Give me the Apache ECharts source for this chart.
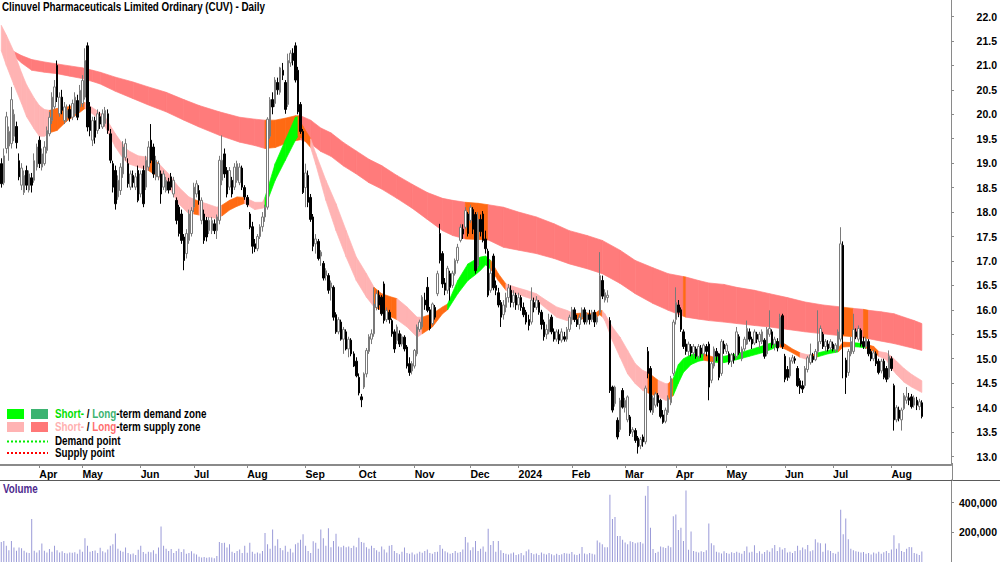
<!DOCTYPE html>
<html><head><meta charset="utf-8">
<script src="https://cdn.jsdelivr.net/npm/echarts@6/dist/echarts.min.js"></script>
<style>html,body{margin:0;padding:0;background:#fff}#c{width:1000px;height:562px}</style>
</head><body><div id="c"></div>
<script>
const FONT = "'Liberation Sans Narrow','Arial Narrow','Liberation Sans',Arial,sans-serif";
const NARROW = 0.82;
const titleText = 'Clinuvel Pharmaceuticals Limited Ordinary (CUV) - Daily';
const monthNames = ['Jan','Feb','Mar','Apr','May','Jun','Jul','Aug','Sep','Oct','Nov','Dec'];
const startDate = '2023-03-13';
const totalSlots = 375;
const holidays = ['2023-04-07','2023-04-10','2023-04-25','2023-06-12','2023-12-25','2023-12-26',
  '2024-01-01','2024-01-26','2024-03-29','2024-04-01','2024-04-25','2024-06-10'];
const priceTicks = [13,13.5,14,14.5,15,15.5,16,16.5,17,17.5,18,18.5,19,19.5,20,20.5,21,21.5,22];
const volumeTicks = [200000,400000];

// [open, close, low, high]
const candles = [
[18.99,18.58,18.50,19.10],[18.60,19.15,18.55,19.30],[19.30,19.95,19.20,20.05],[19.35,19.65,19.05,19.75],[19.40,20.30,19.30,20.56],
[19.55,20.00,19.45,20.10],[19.75,19.42,19.30,19.85],[19.05,18.72,18.65,19.20],[18.55,18.90,18.45,19.00],[18.40,18.75,18.35,18.85],
[18.85,18.55,18.45,18.95],[18.45,18.78,18.40,18.85],[18.70,18.55,18.40,18.80],[18.65,19.05,18.60,19.20],[18.92,19.33,18.85,19.40],
[19.47,18.99,18.90,19.55],[18.92,19.19,18.85,19.30],[18.99,19.33,18.95,19.45],[19.26,19.67,19.20,19.75],[19.60,19.94,19.55,20.05],
[19.87,20.35,19.80,20.45],[20.15,20.56,20.10,20.70],[21.00,20.35,20.25,21.10],[20.01,20.35,19.95,20.45],[20.35,20.08,20.00,20.50],
[19.87,20.15,19.80,20.25],[19.94,20.08,19.85,20.20],[20.10,19.92,19.85,20.20],[19.94,20.22,19.88,20.30],[20.01,20.35,19.95,20.45],
[20.28,19.94,19.88,20.40],[20.15,20.49,20.05,20.60],[20.22,20.69,20.15,20.80],[20.35,21.10,20.30,21.35],[21.40,19.74,19.65,21.47],
[20.15,19.67,19.55,20.25],[19.47,19.87,19.35,19.95],[19.87,19.53,19.40,19.95],[19.67,20.01,19.60,20.10],[19.95,19.80,19.70,20.05],
[19.74,20.01,19.70,20.10],[19.81,20.08,19.75,20.15],[20.01,19.67,19.60,20.10],[19.60,19.06,19.00,19.70],[18.99,18.51,18.40,19.05],
[18.85,18.17,18.05,18.95],[18.31,18.65,18.25,18.75],[18.44,18.92,18.35,19.00],[18.78,19.33,18.70,19.45],[19.12,19.40,19.05,19.50],
[18.99,18.58,18.50,19.10],[18.51,18.78,18.45,18.85],[18.75,18.60,18.50,18.85],[18.51,18.72,18.45,18.80],[18.85,18.24,18.20,18.95],
[18.37,18.78,18.30,18.85],[18.85,18.17,18.10,18.95],[18.51,19.06,18.45,19.15],[18.92,19.33,18.85,19.45],[19.47,19.06,19.00,19.80],
[19.33,18.78,18.70,19.40],[18.72,19.06,18.65,19.15],[18.72,18.99,18.65,19.05],[18.78,18.37,18.17,18.85],[18.51,18.78,18.45,18.85],
[18.44,18.65,18.40,18.72],[18.62,18.45,18.38,18.70],[18.72,18.51,18.45,18.80],[18.37,18.65,18.30,18.72],[18.24,17.83,17.75,18.30],
[18.10,17.56,17.50,18.15],[17.96,17.42,17.35,18.05],[17.49,17.01,16.81,17.55],[17.15,17.56,17.05,17.65],[17.42,17.96,17.35,18.05],
[17.56,18.03,17.50,18.10],[18.10,18.51,18.00,18.60],[18.37,18.58,18.30,18.65],[18.44,18.24,18.15,18.55],[17.83,18.24,17.75,18.30],
[17.96,17.42,17.35,18.05],[17.83,17.49,17.40,17.90],[17.62,17.83,17.55,17.90],[17.62,17.83,17.55,17.90],[17.76,17.62,17.55,17.85],
[17.62,17.90,17.45,17.95],[17.83,19.06,17.75,19.15],[18.65,19.06,18.55,19.57],[19.19,18.78,18.70,19.30],[18.85,18.37,18.30,18.92],
[18.51,18.85,18.45,18.92],[18.65,18.37,18.30,18.72],[18.51,18.92,18.45,19.00],[18.65,18.99,18.60,19.05],[18.60,18.92,18.55,19.00],
[18.90,18.51,18.45,18.95],[18.50,18.31,18.25,18.55],[18.30,18.15,18.10,18.35],[17.96,17.69,17.65,18.00],[17.70,17.30,17.15,17.80],
[17.35,17.25,17.18,17.45],[17.25,17.50,17.20,17.55],[17.50,17.70,17.45,17.75],[17.70,17.90,17.60,18.00],[17.90,18.10,17.80,18.15],
[18.10,19.90,18.05,19.94],[19.55,20.30,19.50,20.35],[20.30,20.15,20.00,20.45],[20.22,20.70,20.15,20.76],[20.65,20.50,20.40,20.75],
[20.45,20.95,20.40,20.97],[20.90,20.80,20.70,21.05],[20.65,20.10,20.01,20.70],[20.20,21.10,20.15,21.24],[21.05,21.25,20.97,21.31],
[21.25,21.10,21.00,21.35],[21.40,20.70,20.65,21.47],[20.90,20.05,20.00,20.97],[20.20,19.65,19.60,20.25],[19.65,18.40,18.37,19.70],
[18.50,18.80,18.10,18.99],[18.75,18.20,18.10,18.85],[18.30,17.85,17.80,18.37],[17.90,17.30,17.20,17.96],[17.35,17.45,17.15,17.55],
[17.40,17.05,17.01,17.45],[17.10,17.18,16.90,17.22],[16.95,16.65,16.60,17.00],[16.70,16.80,16.60,16.85],[16.70,16.40,16.33,16.75],
[16.45,16.55,16.19,16.60],[16.46,15.85,15.78,16.50],[15.90,15.55,15.51,15.95],[15.55,15.80,15.50,15.85],[15.75,15.40,15.37,15.80],
[15.40,15.60,15.10,15.65],[15.55,15.20,15.17,15.60],[15.20,15.40,15.03,15.45],[15.38,15.10,15.05,15.42],[15.10,14.85,14.83,15.15],
[14.95,14.65,14.62,15.03],[14.62,14.30,14.25,14.70],[14.22,14.16,14.01,14.28],[14.42,14.69,14.38,14.72],[14.69,15.17,14.62,15.22],
[15.15,15.45,15.10,15.50],[15.40,15.51,15.30,15.60],[15.51,16.12,15.45,16.46],[16.05,16.33,15.99,16.40],[16.30,16.10,16.00,16.40],
[16.26,15.92,15.88,16.30],[16.53,15.78,15.72,16.58],[15.80,15.99,15.75,16.05],[15.95,15.80,15.72,16.00],[15.78,15.51,15.45,15.82],
[15.55,15.20,15.12,15.60],[15.37,15.65,15.30,15.70],[15.51,15.30,15.24,15.58],[15.30,15.45,15.25,15.50],[15.44,15.20,15.15,15.48],
[15.24,14.85,14.80,15.28],[14.90,14.72,14.65,15.03],[14.75,14.90,14.68,14.95],[14.85,15.17,14.80,15.20],[15.10,15.65,15.05,15.70],
[15.60,15.75,15.55,15.80],[15.65,16.26,15.60,16.30],[16.20,16.10,16.00,16.35],[16.46,15.99,15.95,16.67],[16.00,15.62,15.58,16.06],
[15.72,16.12,15.68,16.15],[16.05,15.85,15.80,16.10],[16.33,16.74,16.28,16.80],[17.56,17.01,16.95,17.76],[17.15,16.53,16.45,17.20],
[16.55,16.40,16.30,16.65],[16.40,16.85,16.33,16.90],[16.74,16.46,16.19,16.80],[16.50,16.75,16.45,16.80],[16.74,17.01,16.70,17.05],
[17.01,17.28,16.95,17.35],[17.42,17.69,17.38,17.75],[17.65,17.55,17.45,17.75],[17.69,18.03,17.65,18.10],[17.96,17.56,17.50,18.00],
[17.83,18.10,17.78,18.15],[18.05,17.65,17.55,18.10],[17.95,16.80,16.74,18.00],[16.90,17.85,16.85,18.00],[17.85,17.60,17.50,17.95],
[17.96,17.42,17.38,18.02],[17.45,17.25,17.15,17.62],[17.20,16.30,16.26,17.25],[16.40,16.75,16.35,16.85],[17.10,16.45,16.40,17.15],
[16.50,16.40,16.30,16.60],[16.35,16.10,16.05,16.45],[16.15,15.85,15.65,16.20],[15.90,16.10,15.80,16.20],[16.05,16.25,15.95,16.35],
[16.25,16.45,16.15,16.53],[16.40,16.15,16.05,16.50],[16.15,16.30,16.05,16.40],[16.30,16.10,16.00,16.35],[16.10,16.25,16.00,16.35],
[16.25,16.05,15.98,16.30],[16.05,15.90,15.85,16.15],[15.95,15.75,15.70,16.00],[15.80,15.68,15.58,15.90],[15.75,16.20,15.70,16.46],
[16.15,16.05,15.95,16.25],[16.05,16.20,16.00,16.28],[16.15,15.95,15.90,16.20],[15.95,15.70,15.60,16.00],[15.75,15.45,15.37,15.80],
[15.50,15.60,15.40,15.70],[15.55,15.80,15.50,15.92],[15.85,15.55,15.50,15.90],[15.55,15.40,15.35,15.62],[15.40,15.55,15.35,15.60],
[15.50,15.38,15.30,15.60],[15.38,15.55,15.33,15.62],[15.45,15.40,15.35,15.55],[15.40,15.60,15.35,15.65],[15.60,15.85,15.55,15.90],
[15.80,16.00,15.70,16.06],[16.00,15.80,15.75,16.05],[15.80,15.70,15.65,15.90],[15.70,15.85,15.60,15.90],[15.85,16.00,15.80,16.05],
[16.00,15.75,15.70,16.05],[15.75,15.90,15.70,15.95],[15.90,15.80,15.70,16.00],[15.80,15.95,15.75,16.00],[15.95,15.75,15.65,16.00],
[15.75,15.85,15.70,15.90],[15.95,16.70,15.90,17.18],[16.60,16.28,16.22,16.70],[16.20,16.35,16.15,16.42],[16.25,16.30,16.15,16.40],
[15.78,14.35,14.30,15.85],[14.42,13.95,13.90,14.45],[14.08,14.42,14.02,14.45],[13.74,13.40,13.35,13.80],[13.55,14.15,13.50,14.20],
[14.35,14.01,13.98,14.40],[14.00,14.15,13.90,14.20],[13.75,14.22,13.70,14.25],[13.81,13.47,13.42,13.85],[13.50,13.55,13.40,13.60],
[13.53,13.33,13.28,13.58],[13.38,13.20,13.06,13.42],[13.22,13.35,13.15,13.40],[13.40,13.30,13.20,13.45],[13.30,14.40,13.25,14.45],
[15.15,14.70,14.60,15.24],[14.80,13.95,13.90,14.85],[13.90,14.20,13.85,14.25],[14.05,14.28,14.00,14.32],[14.25,14.10,14.02,14.30],
[14.15,13.82,13.78,14.18],[13.85,13.70,13.67,13.95],[13.72,13.95,13.68,14.00],[13.90,14.20,13.85,14.25],[14.10,14.60,14.05,14.65],
[14.70,15.75,14.65,15.80],[15.80,16.15,15.70,16.46],[16.10,15.95,15.85,16.20],[16.00,15.60,15.55,16.05],[15.55,15.25,15.20,15.60],
[15.30,15.15,15.08,15.40],[15.15,15.30,15.05,15.35],[15.25,15.12,15.05,15.30],[15.12,15.25,15.05,15.30],[15.20,15.05,15.00,15.25],
[15.05,15.25,15.00,15.30],[15.22,15.10,15.02,15.28],[15.10,15.28,15.05,15.31],[15.25,15.15,15.05,15.30],[15.30,14.42,14.15,15.35],
[14.56,14.90,14.50,14.95],[14.85,15.20,14.80,15.25],[15.15,15.05,14.95,15.22],[15.10,14.62,14.56,15.12],[14.70,15.35,14.65,15.40],
[15.30,15.20,15.10,15.37],[15.15,15.28,15.10,15.32],[15.10,14.92,14.88,15.15],[14.95,15.08,14.83,15.12],[15.05,14.98,14.90,15.12],
[15.05,15.55,15.00,15.65],[15.45,15.12,15.08,15.50],[15.00,15.20,14.95,15.25],[15.20,15.40,15.15,15.45],[15.30,15.62,15.28,15.78],
[15.55,15.40,15.35,15.62],[15.40,15.30,15.20,15.45],[15.32,15.55,15.28,15.60],[15.50,15.40,15.32,15.55],[15.35,15.50,15.22,15.55],
[15.35,15.55,15.30,15.60],[15.38,15.05,15.00,15.42],[15.10,15.60,15.05,15.65],[15.50,15.62,15.45,15.99],[15.55,15.28,15.22,15.60],
[15.30,15.40,15.17,15.45],[15.35,15.22,15.15,15.42],[15.30,15.85,15.25,15.92],[15.88,15.25,15.20,15.92],[15.05,14.58,14.52,15.10],
[14.78,14.62,14.55,14.85],[14.65,14.97,14.60,15.03],[14.95,15.02,14.90,15.08],[15.00,14.97,14.90,15.05],[14.80,14.45,14.42,14.85],
[14.55,14.40,14.28,14.60],[14.45,14.38,14.30,14.55],[14.45,14.80,14.40,14.85],[14.78,15.02,14.72,15.06],[14.92,15.08,14.88,15.31],
[15.05,14.98,14.92,15.12],[14.98,15.15,14.95,15.20],[15.15,15.35,15.10,15.99],[15.35,15.62,15.30,15.68],[15.50,15.25,15.20,15.55],
[15.25,15.35,15.15,15.40],[15.30,15.20,15.15,15.38],[15.22,15.35,15.18,15.40],[15.30,15.20,15.15,15.35],[15.18,15.28,15.12,15.32],
[15.20,15.55,15.15,15.60],[15.40,17.35,15.35,17.69],[17.32,15.50,14.60,17.40],[14.97,14.62,14.28,15.02],[14.72,15.15,14.65,15.20],
[15.10,15.35,15.05,15.45],[15.15,15.60,15.10,15.92],[15.55,15.45,15.40,15.62],[15.40,15.62,15.35,15.68],[15.58,15.30,15.25,15.62],
[15.35,15.25,15.20,15.45],[15.25,15.40,15.20,15.45],[15.35,15.10,15.05,15.40],[15.15,15.00,14.95,15.20],[15.00,15.12,14.95,15.18],
[15.10,14.90,14.85,15.15],[14.95,14.72,14.68,15.00],[14.75,14.95,14.70,15.00],[14.95,14.62,14.58,15.00],[14.80,14.58,14.52,14.85],
[14.62,15.05,14.58,15.17],[15.00,14.80,14.75,15.05],[14.45,13.75,13.53,14.49],[13.75,14.00,13.70,14.05],[13.95,13.78,13.72,14.02],
[13.75,13.95,13.53,14.00],[13.98,14.25,13.95,14.30],[14.15,14.22,14.08,14.42],[14.20,14.15,14.05,14.30],[14.22,14.02,13.98,14.28],
[14.05,14.20,14.00,14.25],[14.15,14.05,13.95,14.22],[14.02,14.12,13.95,14.18],[14.10,13.82,13.78,14.15]
];

// daily volume, thousands of shares
const volumeK = [
135,142,109,80,142,98,76,98,93,76, 64,60,290,76,64,80,125,76,64,87,
70,110,80,64,72,60,58,64,62,66, 55,85,70,160,110,70,75,78,60,96,
72,64,85,110,120,193,90,76,70,98, 60,52,58,48,82,110,68,56,70,65,
80,55,98,240,110,90,75,88,60,75, 90,68,86,55,60,72,58,50,36,30,
34,28,32,30,26,40,135,128,130,98, 120,70,60,75,85,60,110,62,130,70,
55,64,58,75,195,120,90,220,110,153, 95,80,110,70,90,64,120,130,150,187,
110,75,60,140,130,90,220,160,110,227, 100,142,190,105,100,110,100,105,95,110,
100,164,135,130,100,90,110,95,80,70, 105,85,64,110,115,75,60,52,70,98,
60,55,64,50,58,70,62,75,85,60, 55,68,70,115,90,72,64,55,60,75,
62,68,85,169,131,80,100,142,75,90, 105,70,224,115,142,70,142,80,60,55,
50,58,64,48,52,60,45,72,85,60, 52,58,48,64,55,50,60,52,46,55,
48,52,60,58,55,68,50,48,55,102, 58,52,60,55,50,145,131,120,100,100,
453,291,304,176,176,150,131,120,140,135, 127,131,135,125,447,513,231,87,60,70,
105,100,95,109,100,309,320,216,231,142, 482,82,205,75,70,64,72,68,80,260,
127,113,70,64,58,72,60,55,66,60, 70,62,55,75,105,64,70,113,60,72,
55,68,80,70,92,115,75,100,85,95, 64,70,60,75,110,80,98,86,115,72,
80,153,131,127,70,125,80,75,60,55, 70,353,187,293,153,90,80,72,70,64,
68,55,60,50,64,58,70,56,66,75, 60,85,180,90,127,75,68,90,102,100,
60,55,48,71
];

// short-term zone (sampled along the trading-day index)
const shortIdx = [0,2,5,8,10,13,15,17,19,22, 26,30,33,37,41,45,48,50,54,58,
62,66,70,74,76,78,81,85,87,90, 93,96,100,103,104,108,112,116,117,119,
122,124,128,132,136,140,144,147,150,154, 156,160,164,166,170,174,176,180,184,187,
189,191,193,196,199,203,207,211,215,219, 223,226,230,234,236,237,238,241,244,247,
250,253,255,259,262,263,265,267,269,272, 275,277,281,285,290,295,300,304,306,309,
312,315,318,320,322,326,330,332,335,338, 341,344,346,349,351,353,356,359,363];
const shortUpper = [21.82,21.62,21.28,20.85,20.60,20.33,20.18,20.10,20.08,20.12,
20.15,20.20,20.24,20.10,19.94,19.60,19.38,19.26,19.15,19.12,
19.00,18.78,18.51,18.31,18.26,18.22,18.17,18.10,18.14,18.24,
18.31,18.30,18.20,18.20,18.30,18.99,19.47,19.94,19.95,19.75,
19.50,19.20,18.65,18.17,17.62,17.08,16.74,16.46,16.33,16.26,
16.23,16.06,15.85,15.85,15.92,16.06,16.12,16.60,16.94,17.03,
17.08,17.10,17.01,16.74,16.53,16.46,16.40,16.33,16.19,16.06,
15.99,15.92,15.94,15.92,16.00,15.98,15.92,15.65,15.44,15.17,
14.90,14.76,14.72,14.56,14.49,14.49,14.60,14.88,15.00,15.08,
15.12,15.10,15.03,15.05,15.10,15.18,15.26,15.33,15.36,15.30,
15.20,15.12,15.08,15.08,15.12,15.17,15.22,15.34,15.33,15.32,
15.30,15.25,15.15,15.12,15.05,14.95,14.80,14.68,14.55];
const shortLower = [21.30,21.00,20.60,20.22,19.95,19.70,19.55,19.55,19.62,19.67,
19.87,20.00,20.12,19.97,19.74,19.33,19.10,18.99,18.92,18.85,
18.72,18.51,18.17,17.96,17.96,17.94,17.90,17.87,17.92,18.04,
18.12,18.18,18.05,18.08,18.10,18.65,19.06,19.47,19.55,19.50,
19.32,18.98,18.24,17.62,17.08,16.60,16.26,16.06,15.99,15.85,
15.80,15.65,15.44,15.51,15.65,15.92,16.00,16.33,16.60,16.72,
16.81,16.92,16.83,16.60,16.40,16.33,16.26,16.19,16.02,15.85,
15.78,15.80,15.82,15.82,15.90,15.86,15.78,15.37,15.03,14.69,
14.49,14.35,14.30,14.22,14.15,14.15,14.25,14.50,14.72,14.88,
14.95,14.97,14.93,14.92,14.98,15.05,15.12,15.20,15.26,15.20,
15.12,15.03,14.98,15.00,15.04,15.10,15.14,15.24,15.25,15.24,
15.22,15.15,15.05,14.98,14.80,14.68,14.52,14.42,14.31];
// zone state of each segment: p = supply, g = demand, o = price inside zone
const shortZone = ('ppppppppoo'+'oopppppppo'+'ppppopppoo'+'opppggggoo'+'pppppppooo'+'pppooogggg'+
  'ggoopppppp'+'pooooppppp'+'ppoppogggg'+'goggggggoo'+'oppoggoogg'+'ooppppppp').split('');

// long-term zone
const longIdx = [4,8,12,17,22,27,32,36,39,45, 52,58,65,72,78,86,94,100,104,108,
112,116,118,122,126,130,135,140,145,150, 156,162,168,174,178,183,188,192,198,204,
211,218,224,231,237,244,250,257,263,269, 270,275,279,285,290,297,303,310,317,324,
331,336,340,342,347,352,356,360,363];
const longUpper = [21.31,21.20,21.12,21.07,21.03,20.99,20.95,20.90,20.86,20.76,
20.66,20.56,20.45,20.30,20.18,20.05,19.94,19.90,19.88,19.88,
19.92,19.97,19.97,19.88,19.72,19.62,19.42,19.25,19.08,18.95,
18.75,18.57,18.40,18.28,18.24,18.20,18.18,18.15,18.10,18.00,
17.90,17.76,17.62,17.52,17.42,17.22,17.01,16.86,16.74,16.68,
16.67,16.60,16.55,16.52,16.46,16.40,16.33,16.25,16.16,16.10,
16.06,16.03,16.01,15.99,15.96,15.92,15.85,15.78,15.72];
const longLower = [21.24,21.05,20.90,20.86,20.83,20.78,20.73,20.67,20.62,20.47,
20.32,20.19,20.05,19.88,19.74,19.57,19.43,19.36,19.30,19.32,
19.40,19.46,19.48,19.40,19.24,19.14,18.94,18.78,18.60,18.47,
18.28,18.08,17.85,17.62,17.52,17.45,17.44,17.43,17.28,17.22,
17.15,17.05,16.94,16.84,16.74,16.54,16.33,16.13,15.99,15.87,
15.85,15.81,15.78,15.75,15.72,15.68,15.65,15.60,15.55,15.51,
15.47,15.45,15.43,15.41,15.36,15.31,15.26,15.21,15.17];
const longZone = ('rrrrrrrrrr'+'rrrrrrrroo'+'oorrrrrrrr'+'rrrrroorrr'+'rrrrrrrrro'+'rrrrrrrrrr'+'ororrrrrr').split('');

const zoneColors = {p:'#FFB3B3', o:'#FF6A13', g:'#00FF00', r:'#FF7B7B'};
const zoneCodes = ['p','o','g','r'];

// trading-day categories
function tradingDays(start, n, hol) {
  const out = []; const d = new Date(start + 'T00:00:00Z');
  while (out.length < n) {
    const s = d.toISOString().slice(0,10); const w = d.getUTCDay();
    if (w !== 0 && w !== 6 && hol.indexOf(s) < 0) out.push(s);
    d.setUTCDate(d.getUTCDate() + 1);
  }
  return out;
}
const dates = tradingDays(startDate, totalSlots, holidays);
function isMonthStart(i) {
  return i > 0 && i < candles.length && dates[i].slice(0,7) !== dates[i-1].slice(0,7);
}
function bandData(xs, up, lo, zone) {
  const d = [];
  for (let k = 0; k < xs.length - 1; k++) {
    d.push([xs[k], up[k], lo[k], xs[k+1], up[k+1], lo[k+1], zoneCodes.indexOf(zone[k])]);
  }
  return d;
}
function renderBand(params, api) {
  const a = api.coord([api.value(0), api.value(1)]);
  const b = api.coord([api.value(3), api.value(4)]);
  const c = api.coord([api.value(3), api.value(5)]);
  const e = api.coord([api.value(0), api.value(2)]);
  const col = zoneColors[zoneCodes[api.value(6)]];
  return {type:'polygon', shape:{points:[a,b,c,e]}, style:{fill:col, stroke:col, lineWidth:0.7}};
}
function narrowText(x, y, style) {
  return {type:'text', x:x, y:y, z:100, scaleX:NARROW, scaleY:1, originX:0, originY:0,
          style:Object.assign({font:'bold 12px '+FONT, verticalAlign:'middle', fill:'#000'}, style)};
}

const chart = echarts.init(document.getElementById('c'), null, {renderer:'svg'});
const lblStyle = {fontFamily:FONT, fontWeight:'bold', fontSize:10.5, color:'#000'};
const boldF = 'bold 12px ' + FONT;
const option = {
  animation:false,
  backgroundColor:'#ffffff',
  grid:[
    {left:0, right:48, top:0, height:465},
    {left:0, right:48, top:480, height:83}
  ],
  xAxis:[
    {type:'category', gridIndex:0, data:dates, boundaryGap:true,
     axisLine:{show:true, lineStyle:{color:'#8a8a8a', width:2}},
     axisTick:{show:true, alignWithLabel:true, interval:(i)=>isMonthStart(i), length:3, lineStyle:{color:'#8a8a8a'}},
     axisLabel:Object.assign({interval:(i)=>isMonthStart(i), align:'left', margin:3,
       formatter:(v)=>{const m = +v.slice(5,7); return m === 1 ? v.slice(0,4) : monthNames[m-1];}}, lblStyle),
     splitLine:{show:false}},
    {type:'category', gridIndex:1, data:dates, boundaryGap:true,
     axisLine:{show:false}, axisTick:{show:false}, axisLabel:{show:false}, splitLine:{show:false}}
  ],
  yAxis:[
    {type:'value', gridIndex:0, position:'right', min:12.8265, max:22.3375,
     axisLine:{show:true, lineStyle:{color:'#8a8a8a'}},
     axisTick:{show:true, length:3, customValues:priceTicks, lineStyle:{color:'#8a8a8a'}},
     axisLabel:Object.assign({customValues:priceTicks, formatter:(v)=>v.toFixed(1), align:'right', margin:46}, lblStyle),
     splitLine:{show:false}},
    {type:'value', gridIndex:1, position:'right', min:0, max:553333,
     axisLine:{show:true, lineStyle:{color:'#8a8a8a'}},
     axisTick:{show:true, length:3, customValues:volumeTicks, lineStyle:{color:'#8a8a8a'}},
     axisLabel:Object.assign({customValues:volumeTicks, formatter:(v)=>v.toLocaleString('en-US'), align:'right', margin:46}, lblStyle),
     splitLine:{show:false}}
  ],
  series:[
    {type:'custom', name:'long', xAxisIndex:0, yAxisIndex:0, z:1, clip:true,
     renderItem:renderBand, encode:{x:[0,3], y:[1,2,4,5]}, data:bandData(longIdx, longUpper, longLower, longZone)},
    {type:'custom', name:'short', xAxisIndex:0, yAxisIndex:0, z:2, clip:true,
     renderItem:renderBand, encode:{x:[0,3], y:[1,2,4,5]}, data:bandData(shortIdx, shortUpper, shortLower, shortZone)},
    {type:'candlestick', name:'CUV', xAxisIndex:0, yAxisIndex:0, z:3, barWidth:2,
     itemStyle:{color:'#ffffff', color0:'#000000', borderColor:'#7a7a7a', borderColor0:'#000000', borderWidth:1},
     data:candles},
    {type:'bar', name:'Volume', xAxisIndex:1, yAxisIndex:1, barWidth:1,
     itemStyle:{color:'#9a9ad8'}, data:volumeK.map(v => v * 1000)}
  ],
  graphic:[
    narrowText(2, 7, {text:titleText}),
    {type:'line', z:100, shape:{x1:0, y1:480.5, x2:1000, y2:480.5}, style:{stroke:'#5a5a5a', lineWidth:1}},
    {type:'line', z:100, shape:{x1:952.5, y1:463, x2:952.5, y2:481}, style:{stroke:'#8a8a8a', lineWidth:1}},
    narrowText(3, 489, {text:'Volume', fill:'#4e2a8e'}),
    {type:'rect', z:100, shape:{x:7, y:409, width:17, height:10}, style:{fill:'#00FF00'}},
    {type:'rect', z:100, shape:{x:31, y:409, width:17, height:10}, style:{fill:'#3CB371'}},
    {type:'rect', z:100, shape:{x:7, y:422, width:17, height:10}, style:{fill:'#FFB3B3'}},
    {type:'rect', z:100, shape:{x:31, y:422, width:17, height:10}, style:{fill:'#FF7777'}},
    {type:'line', z:100, shape:{x1:7, y1:441.5, x2:48, y2:441.5}, style:{stroke:'#00EE00', lineWidth:2, lineDash:[2,2]}},
    {type:'line', z:100, shape:{x1:7, y1:453, x2:48, y2:453}, style:{stroke:'#FF0000', lineWidth:2, lineDash:[2,2]}},
    narrowText(55, 414, {text:'{a|Short-}{b| / }{c|Long}{b|-term demand zone}',
      rich:{a:{fill:'#00E000', font:boldF}, b:{fill:'#000', font:boldF}, c:{fill:'#3CB371', font:boldF}}}),
    narrowText(55, 427, {text:'{a|Short-}{b| / }{c|Long}{b|-term supply zone}',
      rich:{a:{fill:'#FFB0B0', font:boldF}, b:{fill:'#000', font:boldF}, c:{fill:'#FF6F6F', font:boldF}}}),
    narrowText(55, 441, {text:'Demand point'}),
    narrowText(55, 453, {text:'Supply point'})
  ]
};
chart.setOption(option);
</script></body></html>
